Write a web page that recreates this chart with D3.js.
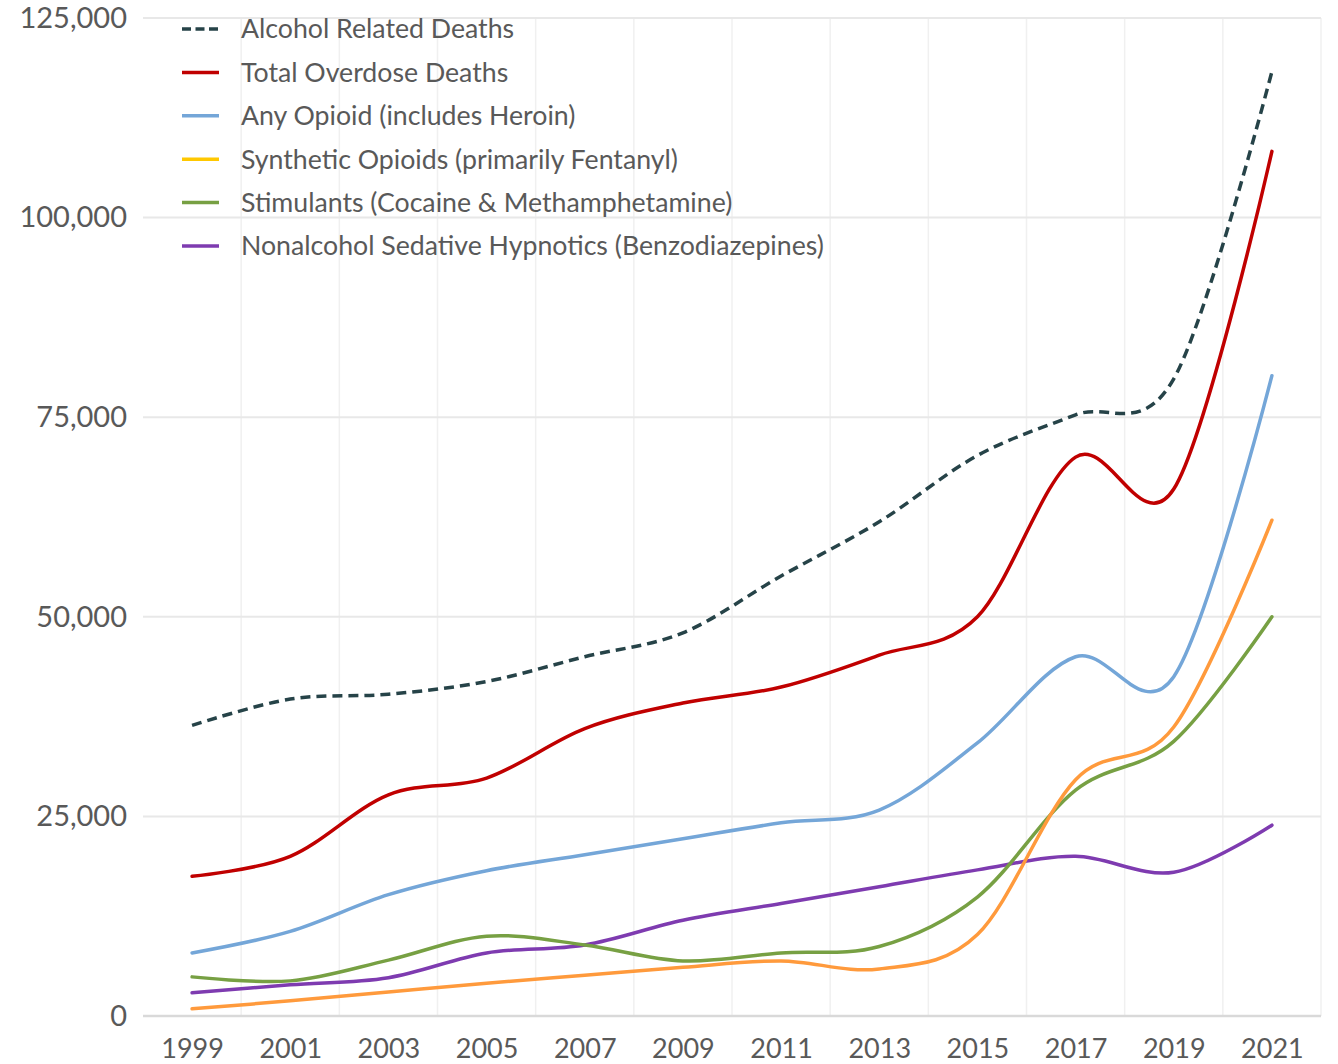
<!DOCTYPE html>
<html>
<head>
<meta charset="utf-8">
<script src="https://cdn.jsdelivr.net/npm/d3@7"></script>
<style>
  html, body { margin: 0; padding: 0; background: #fff; }
  svg { display: block; font-family: Lato, "Open Sans", sans-serif; }
</style>
</head>
<body>
<div id="chart"></div>
<script>
// Data (deaths per year, odd years only).
const years = [1999, 2001, 2003, 2005, 2007, 2009, 2011, 2013, 2015, 2017, 2019, 2021];
const alcohol = [36400, 39700, 40300, 41900, 45000, 48000, 55100, 61900, 70200, 75300, 79800, 118300];
const totalOverdose = [17500, 20000, 27700, 29800, 36000, 39200, 41200, 45200, 50000, 70000, 66000, 108300];
const anyOpioid = [7900, 10600, 15200, 18200, 20200, 22200, 24200, 25800, 34200, 45000, 42500, 80200];
const syntheticOpioids = [900, 1900, 3000, 4100, 5100, 6100, 6900, 5900, 10200, 29600, 36200, 62100];
const stimulants = [4900, 4400, 7000, 10000, 8900, 6900, 7900, 8700, 14900, 28300, 34400, 50000];
const sedatives = [2900, 3900, 4800, 7900, 8900, 12000, 14100, 16200, 18300, 20000, 18000, 23900];

const yTicks = [0, 25000, 50000, 75000, 100000, 125000];
const xLabels = [1999, 2001, 2003, 2005, 2007, 2009, 2011, 2013, 2015, 2017, 2019, 2021];
const xGrid = [2000, 2002, 2004, 2006, 2008, 2010, 2012, 2014, 2016, 2018, 2020, 2022];

const series = [
  { name: "Alcohol Related Deaths", values: alcohol, color: "#264348", legend: "#264348", dash: "10,6" },
  { name: "Total Overdose Deaths", values: totalOverdose, color: "#C00000", legend: "#C00000" },
  { name: "Any Opioid (includes Heroin)", values: anyOpioid, color: "#74A6D8", legend: "#74A6D8" },
  { name: "Synthetic Opioids (primarily Fentanyl)", values: syntheticOpioids, color: "#FF9A3C", legend: "#FFC800" },
  { name: "Stimulants (Cocaine & Methamphetamine)", values: stimulants, color: "#77A043", legend: "#77A043" },
  { name: "Nonalcohol Sedative Hypnotics (Benzodiazepines)", values: sedatives, color: "#7E3BB0", legend: "#7E3BB0" }
];

const width = 1338, height = 1064;
const plotLeft = 143, plotRight = 1321, plotTop = 18, plotBottom = 1016;

const svg = d3.select("#chart").append("svg")
  .attr("width", width)
  .attr("height", height);

const x = d3.scaleLinear().domain([1998, 2022]).range([plotLeft, plotRight]);
const y = d3.scaleLinear().domain([0, 125000]).range([plotBottom, plotTop]);

// Vertical gridlines.
svg.append("g")
  .selectAll("line")
  .data(xGrid)
  .join("line")
  .attr("x1", d => x(d)).attr("x2", d => x(d))
  .attr("y1", plotTop).attr("y2", plotBottom)
  .attr("stroke", "#f0f0f0")
  .attr("stroke-width", 1.5);

// Horizontal gridlines.
svg.append("g")
  .selectAll("line")
  .data(yTicks.filter(d => d > 0))
  .join("line")
  .attr("x1", plotLeft).attr("x2", plotRight)
  .attr("y1", d => y(d)).attr("y2", d => y(d))
  .attr("stroke", "#e8e8e8")
  .attr("stroke-width", 2);

// Y axis labels.
const yAxis = d3.axisLeft(y).tickValues(yTicks).tickSize(0).tickPadding(16)
  .tickFormat(d3.format(","));
svg.append("g")
  .attr("transform", `translate(${plotLeft},0)`)
  .call(yAxis)
  .call(g => g.select(".domain").remove())
  .call(g => g.selectAll("text")
    .attr("fill", "#595959")
    .attr("font-size", 29)
    .attr("font-family", "Lato, sans-serif"));

// X axis.
const xAxis = d3.axisBottom(x).tickValues(xLabels).tickSize(0).tickPadding(0)
  .tickFormat(d3.format("d"));
svg.append("g")
  .attr("transform", `translate(0,${plotBottom})`)
  .call(xAxis)
  .call(g => g.select(".domain")
    .attr("stroke", "#d9d9d9")
    .attr("stroke-width", 2.5)
    .attr("d", `M${plotLeft},0H${plotRight}`))
  .call(g => g.selectAll("text")
    .attr("fill", "#595959")
    .attr("font-size", 27)
    .attr("font-family", "Lato, sans-serif")
    .attr("dy", null)
    .attr("y", 42));

// Lines.
const line = d3.line()
  .x((d, i) => x(years[i]))
  .y(d => y(d))
  .curve(d3.curveCardinal.tension(0));

svg.append("g")
  .selectAll("path")
  .data(series.slice().reverse())
  .join("path")
  .attr("d", d => line(d.values))
  .attr("fill", "none")
  .attr("stroke", d => d.color)
  .attr("stroke-width", 3.5)
  .attr("stroke-dasharray", d => d.dash || null)
  .attr("stroke-linecap", d => d.dash ? "butt" : "round")
  .attr("stroke-linejoin", "round");

// Legend.
const legend = svg.append("g")
  .selectAll("g")
  .data(series)
  .join("g")
  .attr("transform", (d, i) => `translate(182,${29 + i * 43.4})`);

legend.append("line")
  .attr("x1", 0).attr("x2", 37)
  .attr("stroke", d => d.legend)
  .attr("stroke-width", 3.5)
  .attr("stroke-dasharray", d => d.dash ? "9,4.5" : null);

legend.append("text")
  .attr("x", 59)
  .attr("dy", "0.35em")
  .attr("fill", "#595959")
  .attr("font-size", 26.7)
  .text(d => d.name);
</script>
</body>
</html>
